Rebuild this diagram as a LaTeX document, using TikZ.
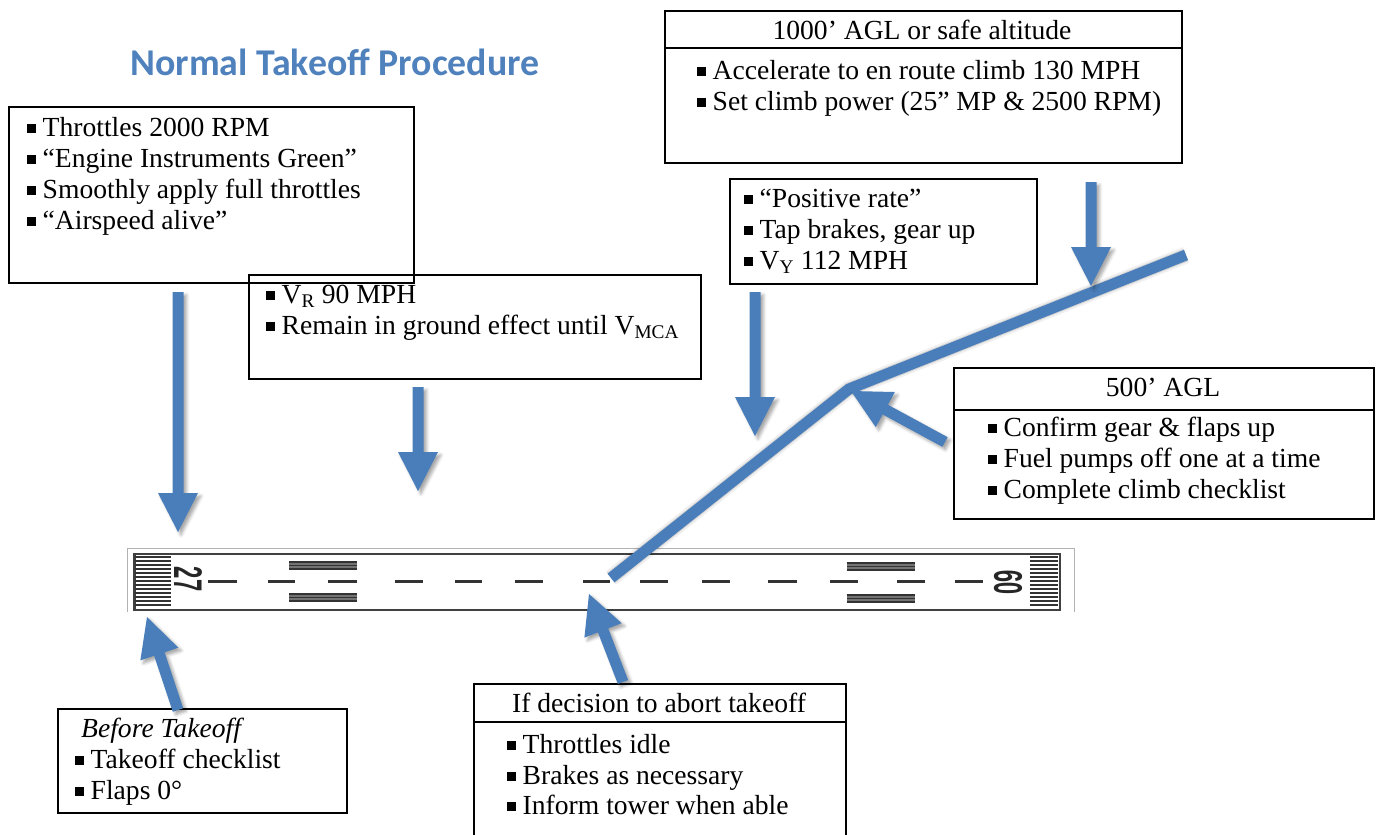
\documentclass[tikz,border=0pt]{standalone}
\usepackage{fontspec}
\setmainfont{Liberation Serif}
\newfontfamily\titlefont{Carlito}
\newfontfamily\rwyfont{Liberation Sans}
\usetikzlibrary{calc,shadows.blur}

\definecolor{procblue}{RGB}{74,126,187}
\definecolor{titleblue}{RGB}{79,129,189}

% square list bullet followed by the gap before the text
\newcommand\sqbullet{\rule[3.5pt]{8.5pt}{8.5pt}\hspace{7pt}}

% block arrow from #1 (tail) to #2 (tip)
\newcommand\blockarrow[2]{%
  \coordinate (ab) at ($(#2)!39pt!(#1)$);
  \fill[pointer] ($(#1)!5.5pt!90:(#2)$) -- ($(ab)!5.5pt!90:(#2)$)
    -- ($(ab)!20pt!90:(#2)$) -- (#2) -- ($(ab)!20pt!-90:(#2)$)
    -- ($(ab)!5.5pt!-90:(#2)$) -- ($(#1)!5.5pt!-90:(#2)$) -- cycle;
}

\tikzset{
  panel/.style={draw=black, line width=2pt, inner sep=0pt, anchor=north west},
  divider/.style={draw=black, line width=2pt},
  item/.style={anchor=base west, inner sep=0pt, font=\fontsize{27.6}{31}\selectfont},
  head/.style={anchor=base, inner sep=0pt, font=\fontsize{27.6}{31}\selectfont},
  pointer/.style={fill=procblue, blur shadow={shadow xshift=3pt, shadow yshift=-3pt,
      shadow blur radius=3pt, shadow opacity=35}},
  climb/.style={draw=procblue, line width=11pt, line join=miter, line cap=butt},
  climbshade/.style={draw=black, line join=miter, line cap=butt},
  rwyedge/.style={draw=black!75, line width=2pt},
  rwyfaint/.style={draw=black!30, line width=1pt},
  stripe/.style={draw=black!80, line width=2pt},
  cdash/.style={draw=black!80, line width=3pt},
  barfill/.style={fill=black!55},
  barline/.style={draw=black!80, line width=1.2pt},
  rwynum/.style={inner sep=0pt, font=\rwyfont\bfseries\fontsize{40}{40}\selectfont, text=black!85},
}

\begin{document}
\begin{tikzpicture}[x=1pt, y=-1pt]
\useasboundingbox (0,0) rectangle (1379,835);

% ---------- title ----------
\node[anchor=base, inner sep=0pt, text=titleblue,
      font=\titlefont\bfseries\fontsize{37.8}{42}\selectfont] (title) at (335,75) {Normal Takeoff Procedure};

% ---------- runway ----------
\draw[rwyfaint] (127,612) -- (127,548) -- (1074,548) -- (1074,612);
\node[draw=black!75, line width=2pt, inner sep=0pt, anchor=north west,
      minimum width=925pt, minimum height=56pt] (rwy) at (134,553) {};
\draw[rwyedge, line width=3pt] (rwy.north west) -- (rwy.south west);
\foreach \y in {557,561,...,605} {
  \draw[stripe] (135,\y) -- (171,\y);
  \draw[stripe] (1030,\y) -- (1058,\y);
}
\foreach \a/\b in {208/237, 268/295, 328/357, 395/423, 455/482, 515/543, 583/610,
                   640/668, 702/730, 768/797, 830/858, 897/925, 955/983}
  \draw[cdash] (\a,581) -- (\b,581);
% aiming point bars: grey block with fine dark lines
\foreach \x/\y in {289/561, 289/593, 847/562, 847/594} {
  \fill[barfill] (\x,\y) rectangle (\x+68,\y+9);
  \foreach \d in {1,4.5,8}
    \draw[barline] (\x,\y+\d) -- (\x+68,\y+\d);
}
\node[rwynum, rotate=-90] (rwyL) at (188,579) {\scalebox{0.55}[1]{27}};
\node[rwynum, rotate=90] (rwyR) at (1008,582) {\scalebox{0.55}[1]{09}};

% ---------- climb-out path ----------
\coordinate (liftoff) at (611,578);
\coordinate (peak) at (849,389);
\coordinate (cruise) at (1186,255);
\draw[climbshade, line width=17pt, opacity=0.06, xshift=3pt, yshift=-3pt] (liftoff) -- (peak) -- (cruise);
\draw[climbshade, line width=13pt, opacity=0.12, xshift=3pt, yshift=-3pt] (liftoff) -- (peak) -- (cruise);
\draw[climb] (liftoff) -- (peak) -- (cruise);

% ---------- boxes ----------
\node[panel, minimum width=405pt, minimum height=176pt] (prep) at (8,106) {};
\node[item] (p1) at (27,136) {\sqbullet Throttles 2000 RPM};
\node[item] (p2) at (27,167) {\sqbullet “Engine Instruments Green”};
\node[item] (p3) at (27,198) {\sqbullet Smoothly apply full throttles};
\node[item] (p4) at (27,229) {\sqbullet “Airspeed alive”};

\node[panel, minimum width=452pt, minimum height=104pt] (rotate) at (248,274) {};
\node[item] (r1) at (266,303) {\sqbullet V\textsubscript{R} 90 MPH};
\node[item] (r2) at (266,334) {\sqbullet Remain in ground effect until V\textsubscript{MCA}};

\node[panel, minimum width=517pt, minimum height=152pt] (alt) at (664,10) {};
\draw[divider] ([yshift=-38pt]alt.north west) -- ([yshift=-38pt]alt.north east);
\node[head] (c0) at (922,39) {1000’ AGL or safe altitude};
\node[item] (c1) at (697,79) {\sqbullet Accelerate to en route climb 130 MPH};
\node[item] (c2) at (697,110) {\sqbullet Set climb power (25” MP \& 2500 RPM)};

\node[panel, minimum width=307pt, minimum height=105pt] (gear) at (729,178) {};
\node[item] (q1) at (744,207) {\sqbullet “Positive rate”};
\node[item] (q2) at (744,238) {\sqbullet Tap brakes, gear up};
\node[item] (q3) at (744,269) {\sqbullet V\textsubscript{Y} 112 MPH};

\node[panel, minimum width=420pt, minimum height=151pt] (five) at (953,367) {};
\draw[divider] ([yshift=-43pt]five.north west) -- ([yshift=-43pt]five.north east);
\node[head] (f0) at (1163,396) {500’ AGL};
\node[item] (f1) at (988,436) {\sqbullet Confirm gear \& flaps up};
\node[item] (f2) at (988,467) {\sqbullet Fuel pumps off one at a time};
\node[item] (f3) at (988,498) {\sqbullet Complete climb checklist};

\node[panel, minimum width=289pt, minimum height=104pt] (before) at (57,708) {};
\node[item, font=\itshape\fontsize{27.6}{31}\selectfont] (b0) at (81,737) {Before Takeoff};
\node[item] (b1) at (75,768) {\sqbullet Takeoff checklist};
\node[item] (b2) at (75,799) {\sqbullet Flaps 0°};

\node[panel, minimum width=372pt, minimum height=170pt] (abort) at (473,683) {};
\draw[divider] ([yshift=-39pt]abort.north west) -- ([yshift=-39pt]abort.north east);
\node[head] (a0) at (659,712) {If decision to abort takeoff};
\node[item] (a1) at (507,753) {\sqbullet Throttles idle};
\node[item] (a2) at (507,784) {\sqbullet Brakes as necessary};
\node[item] (a3) at (507,814) {\sqbullet Inform tower when able};

% ---------- pointers ----------
\coordinate (tA) at (178,292);  \coordinate (hA) at (178,532);
\coordinate (tB) at (418,387);  \coordinate (hB) at (418,491);
\coordinate (tC) at (755,292);  \coordinate (hC) at (755,436);
\coordinate (tD) at (1091,182); \coordinate (hD) at (1091,286);
\coordinate (tE) at (945,442);  \coordinate (hE) at (851,391);
\coordinate (tF) at (623,682);  \coordinate (hF) at (589,594);
\coordinate (tG) at (178,710);  \coordinate (hG) at (147,617);
\blockarrow{tA}{hA}
\blockarrow{tB}{hB}
\blockarrow{tC}{hC}
\blockarrow{tD}{hD}
\blockarrow{tE}{hE}
\blockarrow{tF}{hF}
\blockarrow{tG}{hG}
\end{tikzpicture}
\end{document}
